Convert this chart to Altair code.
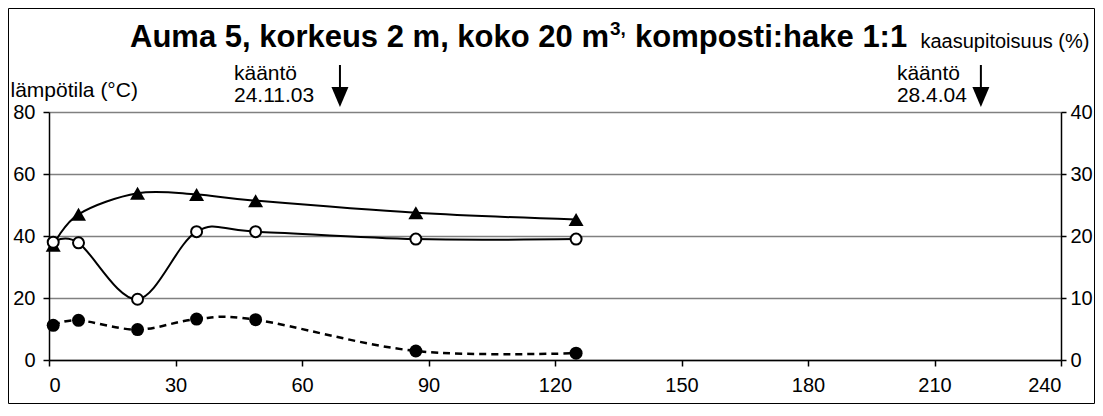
import altair as alt
import pandas as pd

# ---- data ----
days = [1, 7, 21, 35, 49, 87, 125]
temperature = [37.0, 47.0, 53.8, 53.4, 51.4, 47.5, 45.3]          # left axis, °C
oxygen = [19.0, 18.9, 9.8, 20.7, 20.7, 19.5, 19.5]                # right axis, %
carbon_dioxide = [5.6, 6.4, 4.9, 6.6, 6.5, 1.45, 1.1]             # right axis, %

turn_days = [69, 221]
turn_dates = ["24.11.03", "28.4.04"]
turn_word = "kääntö"

x_ticks = [0, 30, 60, 90, 120, 150, 180, 210, 240]
left_ticks = [0, 20, 40, 60, 80]
right_ticks = [0, 10, 20, 30, 40]

title_parts = ["Auma 5, korkeus 2 m, koko 20 m", "3,", "komposti:hake 1:1"]
left_title = "lämpötila (°C)"
right_title = "kaasupitoisuus (%)"

FONT = "Liberation Sans"
W, H = 1012, 248
SMALL = 21
TICK = 20

temp_df = pd.DataFrame({"day": days, "value": temperature})
o2_df = pd.DataFrame({"day": days, "value": oxygen})
co2_df = pd.DataFrame({"day": days, "value": carbon_dioxide})
turn_df = pd.DataFrame({"day": turn_days, "date": turn_dates})

x_enc = alt.X(
    "day:Q",
    scale=alt.Scale(domain=[0, 240], nice=False, zero=False),
    axis=alt.Axis(values=x_ticks, title=None, grid=False, format="d",
                  labelFontSize=TICK, labelPadding=9, tickSize=6),
)

y_left = alt.Y(
    "value:Q",
    scale=alt.Scale(domain=[0, 80], nice=False),
    axis=alt.Axis(values=left_ticks, orient="left", grid=True, gridColor="#808080",
                  gridWidth=1.5, title=left_title, titleAngle=0, titleAlign="left",
                  titleBaseline="alphabetic", titleX=-39, titleY=-16,
                  titleFontSize=SMALL, titleFontWeight="normal", titleFont=FONT,
                  labelFontSize=TICK, labelPadding=8, tickSize=6),
)

y_right = alt.Y(
    "value:Q",
    scale=alt.Scale(domain=[0, 40], nice=False),
    axis=alt.Axis(values=right_ticks, orient="right", grid=False,
                  title=right_title, titleAngle=0, titleAlign="left",
                  titleBaseline="alphabetic", titleX=-141, titleY=-65,
                  titleFontSize=20, titleFontWeight="normal", titleFont=FONT,
                  labelFontSize=TICK, labelPadding=4, tickSize=5),
)

temp_line = alt.Chart(temp_df).mark_line(
    interpolate="cardinal", color="black", strokeWidth=2
).encode(x=x_enc, y=y_left)
temp_pts = alt.Chart(temp_df).mark_point(
    shape="triangle-up", filled=True, color="black", size=225, opacity=1
).encode(x=x_enc, y=y_left)
temp_layer = alt.layer(temp_line, temp_pts)

o2_line = alt.Chart(o2_df).mark_line(
    interpolate="cardinal", color="black", strokeWidth=2
).encode(x=x_enc, y=y_right)
o2_pts = alt.Chart(o2_df).mark_point(
    shape="circle", filled=True, fill="white", stroke="black", strokeWidth=2,
    size=121, opacity=1
).encode(x=x_enc, y=y_right)
co2_line = alt.Chart(co2_df).mark_line(
    interpolate="cardinal", color="black", strokeWidth=2.5, strokeDash=[7, 5]
).encode(x=x_enc, y=y_right)
co2_pts = alt.Chart(co2_df).mark_point(
    shape="circle", filled=True, color="black", size=169, opacity=1
).encode(x=x_enc, y=y_right)
gas_layer = alt.layer(o2_line, co2_line, o2_pts, co2_pts)

# ---- annotations (arrows for turning dates) ----
shaft = alt.Chart(turn_df).mark_rule(color="black", strokeWidth=2).encode(
    x=alt.X("day:Q"), y=alt.value(-47), y2=alt.value(-24)
)
head = alt.Chart(turn_df).mark_point(
    shape="M-0.85,-1L0.85,-1L0,1Z", filled=True, color="black", size=400, opacity=1
).encode(x=alt.X("day:Q"), y=alt.value(-15))

ann_layers = [shaft, head]
for d, off in zip(turn_days, [-106, -84]):
    sub = turn_df[turn_df["day"] == d]
    ann_layers.append(
        alt.Chart(sub).mark_text(align="left", baseline="alphabetic", dx=off,
                                 font=FONT, fontSize=SMALL, color="black")
        .encode(x=alt.X("day:Q"), y=alt.value(-32), text=alt.value(turn_word))
    )
    ann_layers.append(
        alt.Chart(sub).mark_text(align="left", baseline="alphabetic", dx=off,
                                 font=FONT, fontSize=SMALL, color="black")
        .encode(x=alt.X("day:Q"), y=alt.value(-10), text="date:N")
    )

one = pd.DataFrame({"k": [0]})
title_style = dict(align="left", baseline="alphabetic", font=FONT,
                   fontWeight="bold", color="black")
title_main = alt.Chart(one).mark_text(fontSize=31, **title_style).encode(
    x=alt.value(81), y=alt.value(-65), text=alt.value(title_parts[0]))
title_sup = alt.Chart(one).mark_text(fontSize=19, **title_style).encode(
    x=alt.value(561), y=alt.value(-77), text=alt.value(title_parts[1]))
title_end = alt.Chart(one).mark_text(fontSize=31, **title_style).encode(
    x=alt.value(586), y=alt.value(-65), text=alt.value(title_parts[2]))

border = alt.Chart(one).mark_rect(
    fillOpacity=0, stroke="black", strokeWidth=1
).encode(x=alt.value(-40.5), x2=alt.value(1045.5), y=alt.value(-103.5), y2=alt.value(291.5))

ann_layer = alt.layer(*ann_layers, title_main, title_sup, title_end, border)

chart = alt.layer(temp_layer, gas_layer, ann_layer).resolve_scale(
    y="independent"
).properties(
    width=W, height=H,
    autosize=alt.AutoSizeParams(type="none"),
    padding={"left": 41, "top": 104, "right": 34, "bottom": 44},
    background="white",
).configure_view(stroke=None).configure_axis(
    labelFont=FONT, titleFont=FONT, labelColor="black", titleColor="black",
    domainColor="black", domainWidth=1.5, tickColor="black", tickWidth=1.5,
)

chart.save("out.html", embed_options={"renderer": "svg", "actions": False})
